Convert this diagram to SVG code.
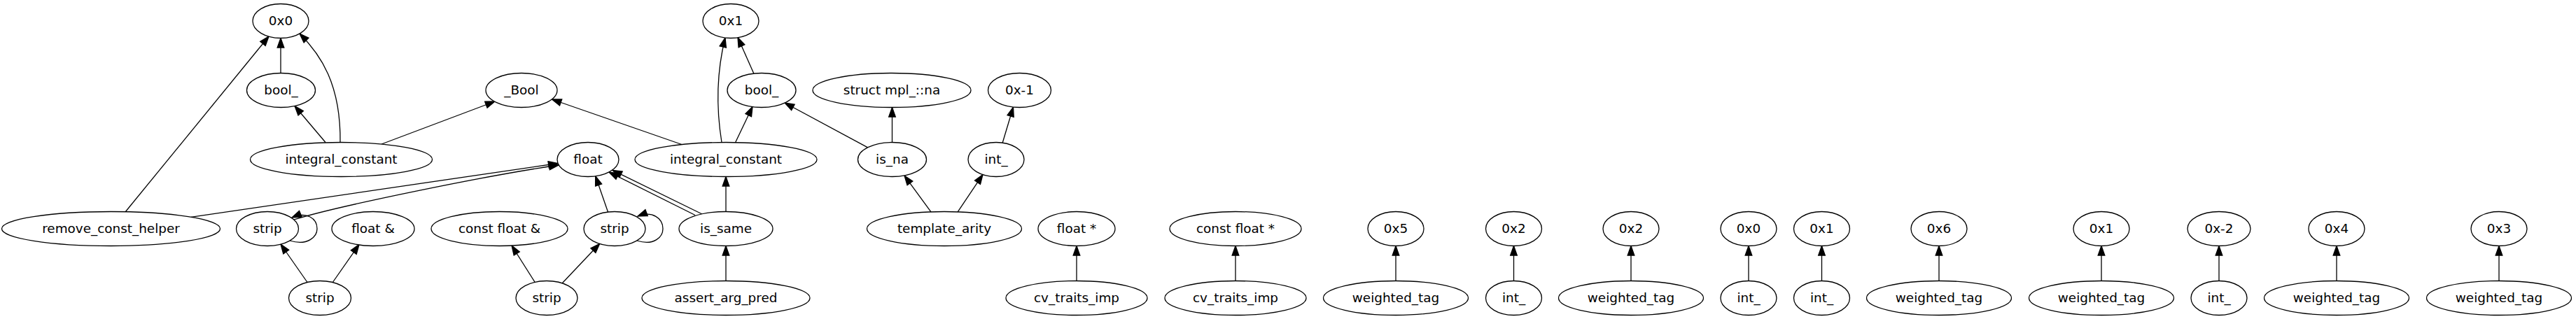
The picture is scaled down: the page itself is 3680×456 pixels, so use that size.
<svg xmlns="http://www.w3.org/2000/svg" width="3680" height="456" viewBox="0 0 3680 456">
<style>
.n ellipse{fill:#fff;stroke:#000;stroke-width:1.3}
.n text{font-family:"DejaVu Sans","Liberation Sans",sans-serif;font-size:18.4px;text-anchor:middle;fill:#000}
#edges path{fill:none;stroke:#000;stroke-width:1.3;marker-end:url(#ah)}
</style>
<defs>
<marker id="ah" markerUnits="userSpaceOnUse" markerWidth="16" markerHeight="12" refX="13.5" refY="4.8" orient="auto" overflow="visible">
<path d="M0,0 L13.5,4.8 L0,9.6 z" fill="#000" stroke="#000" stroke-width="1.3"/>
</marker>
</defs>
<rect width="3680" height="456" fill="#fff"/>
<g id="edges">
<path d="M179,303 L384,52"/>
<path d="M401,104.5 L401,54.5"/>
<path d="M486,203.5 C487,120 458,78 428,48"/>
<path d="M465,203.5 L421,151.5"/>
<path d="M545,206 L707,145"/>
<path d="M974,206.5 L788.4,142"/>
<path d="M272.8,310.4 L797,233.5"/>
<path d="M420,314 C480,295 700,250 798,236"/>
<path d="M414,344 C440,352 453,338 453,327 C453,312 438,302 417,311"/>
<path d="M910,344 C935,352 947,338 947,327 C947,312 932,301 911,309"/>
<path d="M439,403.5 L401,349"/>
<path d="M475,404 L513,349.5"/>
<path d="M764.5,404 L731,351"/>
<path d="M803,405 L856.7,348.3"/>
<path d="M868.6,303.2 L850.7,251.7"/>
<path d="M1003,306 L875,243.3"/>
<path d="M993,307.5 L870,246"/>
<path d="M1037,302.5 L1037,252.5"/>
<path d="M1037,401.5 L1037,351.5"/>
<path d="M1031,203.5 C1024,160 1022,110 1036,54"/>
<path d="M1076.8,105 L1054,53.5"/>
<path d="M1050.4,204 L1075,152.5"/>
<path d="M1240.6,211.4 L1121,147"/>
<path d="M1274.5,203.5 L1274.5,153.5"/>
<path d="M1432,204.7 L1447.5,153"/>
<path d="M1330.5,303.7 L1292,251"/>
<path d="M1367.7,303.7 L1404,249.5"/>
<path d="M1538,401.5 L1538,351.5"/>
<path d="M1765,401.5 L1765,351.5"/>
<path d="M1994,401.5 L1994,351.5"/>
<path d="M2162.5,401.5 L2162.5,351.5"/>
<path d="M2330,401.5 L2330,351.5"/>
<path d="M2498,401.5 L2498,351.5"/>
<path d="M2602.5,401.5 L2602.5,351.5"/>
<path d="M2770,401.5 L2770,351.5"/>
<path d="M3002,401.5 L3002,351.5"/>
<path d="M3170,401.5 L3170,351.5"/>
<path d="M3338,401.5 L3338,351.5"/>
<path d="M3570,401.5 L3570,351.5"/>
</g>
<g id="n_0x0a" class="n"><ellipse cx="401" cy="30" rx="40" ry="24.5"/><text x="401" y="35.5">0x0</text></g>
<g id="n_0x1a" class="n"><ellipse cx="1044" cy="30" rx="40" ry="24.5"/><text x="1044" y="35.5">0x1</text></g>
<g id="n_boolL" class="n"><ellipse cx="401.5" cy="129" rx="49" ry="24.5"/><text x="401.5" y="134.5">bool_</text></g>
<g id="n_Bool" class="n"><ellipse cx="745" cy="129" rx="51" ry="24.5"/><text x="745" y="134.5">_Bool</text></g>
<g id="n_boolR" class="n"><ellipse cx="1088" cy="129" rx="49" ry="24.5"/><text x="1088" y="134.5">bool_</text></g>
<g id="n_na" class="n"><ellipse cx="1274" cy="129" rx="113" ry="24.5"/><text x="1274" y="134.5">struct mpl_::na</text></g>
<g id="n_m1" class="n"><ellipse cx="1456.5" cy="129" rx="45" ry="24.5"/><text x="1456.5" y="134.5">0x-1</text></g>
<g id="n_icL" class="n"><ellipse cx="487.5" cy="228" rx="130" ry="24.5"/><text x="487.5" y="233.5">integral_constant</text></g>
<g id="n_float" class="n"><ellipse cx="840" cy="228" rx="44" ry="24.5"/><text x="840" y="233.5">float</text></g>
<g id="n_icR" class="n"><ellipse cx="1037" cy="228" rx="130" ry="24.5"/><text x="1037" y="233.5">integral_constant</text></g>
<g id="n_isna" class="n"><ellipse cx="1274.5" cy="228" rx="49" ry="24.5"/><text x="1274.5" y="233.5">is_na</text></g>
<g id="n_intA" class="n"><ellipse cx="1423" cy="228" rx="40" ry="24.5"/><text x="1423" y="233.5">int_</text></g>
<g id="n_rch" class="n"><ellipse cx="158.5" cy="327" rx="156" ry="24.5"/><text x="158.5" y="332.5">remove_const_helper</text></g>
<g id="n_stripL" class="n"><ellipse cx="382" cy="327" rx="44.5" ry="24.5"/><text x="382" y="332.5">strip</text></g>
<g id="n_floatref" class="n"><ellipse cx="533" cy="327" rx="59" ry="24.5"/><text x="533" y="332.5">float &amp;</text></g>
<g id="n_cfloatref" class="n"><ellipse cx="713.5" cy="327" rx="97.5" ry="24.5"/><text x="713.5" y="332.5">const float &amp;</text></g>
<g id="n_stripM" class="n"><ellipse cx="878" cy="327" rx="44" ry="24.5"/><text x="878" y="332.5">strip</text></g>
<g id="n_issame" class="n"><ellipse cx="1037" cy="327" rx="67" ry="24.5"/><text x="1037" y="332.5">is_same</text></g>
<g id="n_tarity" class="n"><ellipse cx="1349" cy="327" rx="110.5" ry="24.5"/><text x="1349" y="332.5">template_arity</text></g>
<g id="n_floatp" class="n"><ellipse cx="1538" cy="327" rx="55" ry="24.5"/><text x="1538" y="332.5">float *</text></g>
<g id="n_cfloatp" class="n"><ellipse cx="1765" cy="327" rx="94" ry="24.5"/><text x="1765" y="332.5">const float *</text></g>
<g id="n_0x5" class="n"><ellipse cx="1994" cy="327" rx="40" ry="24.5"/><text x="1994" y="332.5">0x5</text></g>
<g id="n_0x2a" class="n"><ellipse cx="2162.5" cy="327" rx="40" ry="24.5"/><text x="2162.5" y="332.5">0x2</text></g>
<g id="n_0x2b" class="n"><ellipse cx="2330" cy="327" rx="40" ry="24.5"/><text x="2330" y="332.5">0x2</text></g>
<g id="n_0x0b" class="n"><ellipse cx="2498" cy="327" rx="40" ry="24.5"/><text x="2498" y="332.5">0x0</text></g>
<g id="n_0x1b" class="n"><ellipse cx="2602.5" cy="327" rx="40" ry="24.5"/><text x="2602.5" y="332.5">0x1</text></g>
<g id="n_0x6" class="n"><ellipse cx="2770" cy="327" rx="40" ry="24.5"/><text x="2770" y="332.5">0x6</text></g>
<g id="n_0x1c" class="n"><ellipse cx="3002" cy="327" rx="40" ry="24.5"/><text x="3002" y="332.5">0x1</text></g>
<g id="n_0xm2" class="n"><ellipse cx="3170" cy="327" rx="45" ry="24.5"/><text x="3170" y="332.5">0x-2</text></g>
<g id="n_0x4" class="n"><ellipse cx="3338" cy="327" rx="40" ry="24.5"/><text x="3338" y="332.5">0x4</text></g>
<g id="n_0x3" class="n"><ellipse cx="3570" cy="327" rx="40" ry="24.5"/><text x="3570" y="332.5">0x3</text></g>
<g id="n_stripB1" class="n"><ellipse cx="457" cy="426" rx="44.5" ry="24.5"/><text x="457" y="431.5">strip</text></g>
<g id="n_stripB2" class="n"><ellipse cx="781" cy="426" rx="44" ry="24.5"/><text x="781" y="431.5">strip</text></g>
<g id="n_aap" class="n"><ellipse cx="1037" cy="426" rx="120" ry="24.5"/><text x="1037" y="431.5">assert_arg_pred</text></g>
<g id="n_cv1" class="n"><ellipse cx="1538" cy="426" rx="101" ry="24.5"/><text x="1538" y="431.5">cv_traits_imp</text></g>
<g id="n_cv2" class="n"><ellipse cx="1765" cy="426" rx="101" ry="24.5"/><text x="1765" y="431.5">cv_traits_imp</text></g>
<g id="n_wt5" class="n"><ellipse cx="1994" cy="426" rx="103.5" ry="24.5"/><text x="1994" y="431.5">weighted_tag</text></g>
<g id="n_int2" class="n"><ellipse cx="2162.5" cy="426" rx="40" ry="24.5"/><text x="2162.5" y="431.5">int_</text></g>
<g id="n_wt2" class="n"><ellipse cx="2330" cy="426" rx="103.5" ry="24.5"/><text x="2330" y="431.5">weighted_tag</text></g>
<g id="n_int0" class="n"><ellipse cx="2498" cy="426" rx="40" ry="24.5"/><text x="2498" y="431.5">int_</text></g>
<g id="n_int1" class="n"><ellipse cx="2602.5" cy="426" rx="40" ry="24.5"/><text x="2602.5" y="431.5">int_</text></g>
<g id="n_wt6" class="n"><ellipse cx="2770" cy="426" rx="103.5" ry="24.5"/><text x="2770" y="431.5">weighted_tag</text></g>
<g id="n_wt1" class="n"><ellipse cx="3002" cy="426" rx="103.5" ry="24.5"/><text x="3002" y="431.5">weighted_tag</text></g>
<g id="n_intm2" class="n"><ellipse cx="3170" cy="426" rx="40" ry="24.5"/><text x="3170" y="431.5">int_</text></g>
<g id="n_wt4" class="n"><ellipse cx="3338" cy="426" rx="103.5" ry="24.5"/><text x="3338" y="431.5">weighted_tag</text></g>
<g id="n_wt3" class="n"><ellipse cx="3570" cy="426" rx="103.5" ry="24.5"/><text x="3570" y="431.5">weighted_tag</text></g>
</svg>
